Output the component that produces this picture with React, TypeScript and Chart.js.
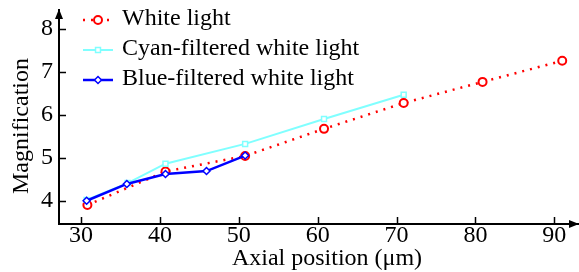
import React, { useEffect, useRef } from "react";
import { Chart, registerables } from "chart.js";
import { drawPoint } from "chart.js/helpers";

Chart.register(...registerables);

const whiteX = [30.8, 40.7, 50.8, 60.8, 70.9, 80.9, 91.0];
const whiteY = [3.91, 4.69, 5.05, 5.68, 6.28, 6.77, 7.26];
const cyanX = [30.7, 35.9, 40.7, 50.8, 60.8, 70.9];
const cyanY = [4.03, 4.42, 4.87, 5.33, 5.91, 6.47];
const blueX = [30.7, 35.8, 40.7, 45.9, 50.8];
const blueY = [4.01, 4.4, 4.63, 4.7, 5.06];
const xTicks = [30, 40, 50, 60, 70, 80, 90];
const yTicks = [4, 5, 6, 7, 8];
const seriesNames = ["White light", "Cyan-filtered white light", "Blue-filtered white light"];
const xTitle = "Axial position (\u03bcm)";
const yTitle = "Magnification";

const FONT = "'Liberation Serif', 'Times New Roman', serif";

const zip = (xs: number[], ys: number[]) => xs.map((x, i) => ({ x, y: ys[i] }));

const decorPlugin = {
  id: "decor",
  afterDraw(chart: any) {
    const ctx = chart.ctx as CanvasRenderingContext2D;
    const { left, right, top, bottom } = chart.chartArea;
    const xs = chart.scales.x;
    const ys = chart.scales.y;
    ctx.save();
    ctx.strokeStyle = "#000";
    ctx.fillStyle = "#000";
    ctx.lineWidth = 1.5;
    ctx.beginPath();
    yTicks.forEach((v) => {
      const p = Math.round(ys.getPixelForValue(v)) + 0.5;
      ctx.moveTo(left, p);
      ctx.lineTo(left + 7, p);
    });
    xTicks.forEach((v) => {
      const p = Math.round(xs.getPixelForValue(v)) + 0.5;
      ctx.moveTo(p, bottom);
      ctx.lineTo(p, bottom - 7);
    });
    ctx.stroke();
    ctx.beginPath();
    ctx.moveTo(left, top - 1);
    ctx.lineTo(left - 4, top + 9);
    ctx.lineTo(left + 4, top + 9);
    ctx.closePath();
    ctx.fill();
    ctx.beginPath();
    ctx.moveTo(right + 1, bottom);
    ctx.lineTo(right - 9, bottom - 4);
    ctx.lineTo(right - 9, bottom + 4);
    ctx.closePath();
    ctx.fill();
    ctx.font = `24px ${FONT}`;
    ctx.textAlign = "center";
    ctx.textBaseline = "middle";
    ctx.fillText(xTitle, 327, 259);
    ctx.save();
    ctx.translate(22, 126);
    ctx.rotate(-Math.PI / 2);
    ctx.fillText(yTitle, 0, 0);
    ctx.restore();
    const rows = [20, 50, 80];
    chart.data.datasets.forEach((ds: any, i: number) => {
      const y = rows[i];
      ctx.save();
      ctx.strokeStyle = ds.borderColor;
      ctx.lineWidth = ds.borderWidth;
      ctx.setLineDash(ds.borderDash || []);
      ctx.beginPath();
      ctx.moveTo(83, y);
      ctx.lineTo(113, y);
      ctx.stroke();
      ctx.setLineDash([]);
      ctx.fillStyle = "#fff";
      ctx.strokeStyle = ds.pointBorderColor;
      ctx.lineWidth = ds.pointBorderWidth;
      drawPoint(ctx, { pointStyle: ds.pointStyle, radius: ds.pointRadius, rotation: 0, borderWidth: ds.pointBorderWidth } as any, 98, y);
      ctx.restore();
      ctx.fillStyle = "#000";
      ctx.textAlign = "left";
      ctx.textBaseline = "middle";
      ctx.fillText(seriesNames[i], 122, y - 1);
    });
    ctx.restore();
  },
};

export default function App() {
  const ref = useRef<HTMLCanvasElement | null>(null);
  useEffect(() => {
    if (!ref.current) return;
    const chart = new Chart(ref.current, {
      type: "scatter",
      data: {
        datasets: [
          {
            label: seriesNames[0],
            data: zip(whiteX, whiteY),
            showLine: true,
            borderColor: "#ff0000",
            borderWidth: 2.5,
            borderDash: [2, 6],
            pointStyle: "circle",
            pointRadius: 4,
            pointBorderWidth: 2,
            pointBorderColor: "#ff0000",
            pointBackgroundColor: "#ffffff",
            order: 2,
          },
          {
            label: seriesNames[1],
            data: zip(cyanX, cyanY),
            showLine: true,
            borderColor: "#80ffff",
            borderWidth: 2,
            pointStyle: "rect",
            pointRadius: 3.5,
            pointBorderWidth: 1.5,
            pointBorderColor: "#80ffff",
            pointBackgroundColor: "#ffffff",
            order: 1,
          },
          {
            label: seriesNames[2],
            data: zip(blueX, blueY),
            showLine: true,
            borderColor: "#0000ff",
            borderWidth: 2.5,
            pointStyle: "rectRot",
            pointRadius: 3.5,
            pointBorderWidth: 1.5,
            pointBorderColor: "#0000ff",
            pointBackgroundColor: "#ffffff",
            order: 0,
          },
        ] as any,
      },
      options: {
        animation: false,
        responsive: false,
        devicePixelRatio: 1,
        layout: { autoPadding: false, padding: { top: 10, right: 1, left: 0, bottom: 0 } },
        plugins: { legend: { display: false }, tooltip: { enabled: false } },
        scales: {
          x: {
            type: "linear",
            min: 27.2,
            max: 93,
            afterFit: (s: any) => {
              s.height = 48;
              s.paddingLeft = 0;
              s.paddingRight = 0;
            },
            afterBuildTicks: (s: any) => { s.ticks = xTicks.map((v) => ({ value: v })); },
            grid: { display: false, drawTicks: false },
            border: { display: true, color: "#000", width: 2 },
            ticks: { color: "#000", padding: -3, font: { family: FONT, size: 24 }, maxRotation: 0 },
          },
          y: {
            type: "linear",
            min: 3.47,
            max: 8.44,
            afterFit: (s: any) => {
              s.width = 59;
              s.paddingTop = 0;
              s.paddingBottom = 0;
            },
            afterBuildTicks: (s: any) => { s.ticks = yTicks.map((v) => ({ value: v })); },
            grid: { display: false, drawTicks: false },
            border: { display: true, color: "#000", width: 2 },
            ticks: { color: "#000", padding: 6, font: { family: FONT, size: 24 } },
          },
        },
      },
      plugins: [decorPlugin],
    });
    return () => chart.destroy();
  }, []);
  return (
    <div style={{ position: "absolute", left: 0, top: 0, width: 579, height: 272, background: "#fff" }}>
      <canvas ref={ref} width={579} height={272} />
    </div>
  );
}
